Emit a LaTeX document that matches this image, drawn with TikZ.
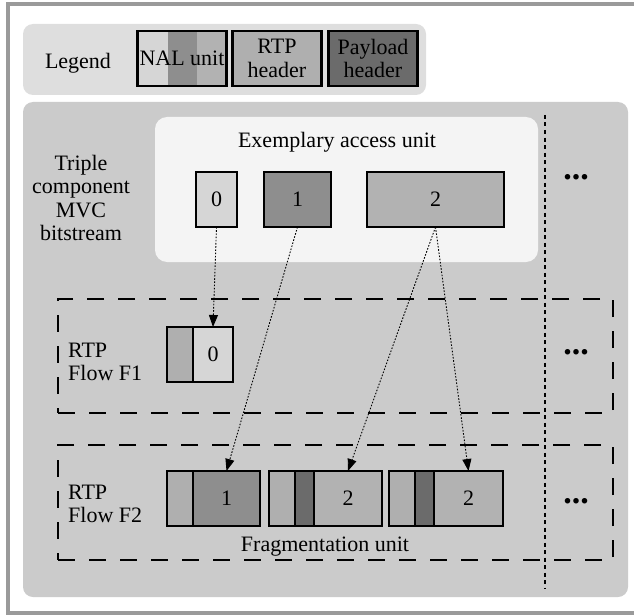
\documentclass[tikz,border=0pt]{standalone}
\usepackage{fontspec}
\setmainfont{Liberation Serif}
\usetikzlibrary{positioning,arrows.meta}

\definecolor{nalnull}{HTML}{D6D6D6}
\definecolor{naleins}{HTML}{8E8E8E}
\definecolor{nalzwei}{HTML}{B2B2B2}
\definecolor{rtphdr}{HTML}{AFAFAF}
\definecolor{plhdr}{HTML}{6B6B6B}
\definecolor{mainbg}{HTML}{CBCBCB}
\definecolor{legbg}{HTML}{DEDEDE}
\definecolor{aubg}{HTML}{F4F4F4}
\definecolor{rahmen}{HTML}{9A9A9A}

\tikzset{
  txt/.style={font=\fontsize{22}{23.5}\selectfont, align=center, inner sep=0pt},
  pkt/.style={txt, draw, line width=2.2pt, outer sep=0pt, minimum height=55, anchor=north west},
  legbox/.style={pkt, anchor=center, minimum width=89},
  flowbox/.style={draw, line width=2.3pt, dash pattern=on 17pt off 14pt, inner sep=0pt, outer sep=0pt, anchor=north west},
  trenner/.style={line width=2.4pt, dash pattern=on 4pt off 3.5pt},
  zuord/.style={line width=0.9pt, dash pattern=on 1.6pt off 1.6pt, -{Triangle[length=12pt,width=9pt]}},
  punkte/.style={font=\bfseries\fontsize{34}{34}\selectfont, inner sep=0pt, anchor=base},
}

\begin{document}
\begin{tikzpicture}[x=1pt, y=-1pt]
\useasboundingbox (0,0) rectangle (634,615);

		%Rahmen
		\draw[rahmen, line width=4pt] (640,4.5) -- (8,4.5) -- (8,613) -- (640,613);

		%Legende
		\fill[legbg, rounded corners=10] (23,24) rectangle (426,95);
		\node[txt] (legende) at (78,63) {Legend};
		\fill[nalnull] (138,31) rectangle (167.5,86);
		\fill[naleins] (167.5,31) rectangle (197,86);
		\fill[nalzwei] (197,31) rectangle (226,86);
		\node[legbox] (nal) at (182,58.5) {NAL unit};
		\node[legbox, fill=rtphdr] (rtp) at (277,58.5) {RTP\\header};
		\node[legbox, fill=plhdr] (payload) at (373,58.5) {Payload\\header};

		%Hintergrund
		\fill[mainbg, rounded corners=10] (23,102) rectangle (628,597);
		\fill[aubg, rounded corners=12] (155,117) rectangle (538,262);

		%Bitstrom
		\node[txt] (bitstrom) at (81,198) {Triple\\component\\MVC\\bitstream};
		\node[txt] (au) at (337,142) {Exemplary access unit};
		\node[pkt, fill=nalnull, minimum width=41] (nalnull) at (196,172) {0};
		\node[pkt, fill=naleins, minimum width=67] (naleins) at (264,172) {1};
		\node[pkt, fill=nalzwei, minimum width=137] (nalzwei) at (367,172) {2};

		%Fluesse
		\node[flowbox, minimum width=555, minimum height=114] (flowone) at (58,299) {};
		\node[flowbox, minimum width=555, minimum height=115] (flowtwo) at (58,445) {};
		\node[txt, align=left, anchor=west] (fonetxt) at (68,362) {RTP\\Flow F1};
		\node[txt, align=left, anchor=west] (ftwotxt) at (68,504) {RTP\\Flow F2};
		\node[txt] (fragtxt) at (325,547) {Fragmentation unit};

		%Trennlinie
		\coordinate (trennoben) at (545,115);
		\coordinate (trennunten) at (545,588);
		\draw[trenner] (trennoben) -- (trennunten);

		\node[punkte] (weiterau) at (576,179) {...};
		\node[punkte] (weiterfone) at (576,354) {...};
		\node[punkte] (weiterftwo) at (576,503) {...};

		%Pakete F1
		\node[pkt, fill=rtphdr, minimum width=26] (fahdr) at (167,327) {};
		\node[pkt, fill=nalnull, minimum width=40, right=0pt of fahdr] (fabody) {0};

		%Pakete F2
		\node[pkt, fill=rtphdr, minimum width=26] (fbhdr) at (167,471) {};
		\node[pkt, fill=naleins, minimum width=67, right=0pt of fbhdr] (fbbody) {1};

		\node[pkt, fill=rtphdr, minimum width=26] (fchdr) at (269,471) {};
		\node[pkt, fill=plhdr, minimum width=19, right=0pt of fchdr] (fcpl) {};
		\node[pkt, fill=nalzwei, minimum width=68, right=0pt of fcpl] (fcbody) {2};

		\node[pkt, fill=rtphdr, minimum width=26] (fdhdr) at (389,471) {};
		\node[pkt, fill=plhdr, minimum width=19, right=0pt of fdhdr] (fdpl) {};
		\node[pkt, fill=nalzwei, minimum width=69, right=0pt of fdpl] (fdbody) {2};

		%Zuordnung
		\draw[zuord] (nalnull.south) -- (fabody.north);
		\draw[zuord] (naleins.south) -- (fbbody.north);
		\draw[zuord] (nalzwei.south) -- (fcbody.north);
		\draw[zuord] (nalzwei.south) -- (fdbody.north);
\end{tikzpicture}
\end{document}
